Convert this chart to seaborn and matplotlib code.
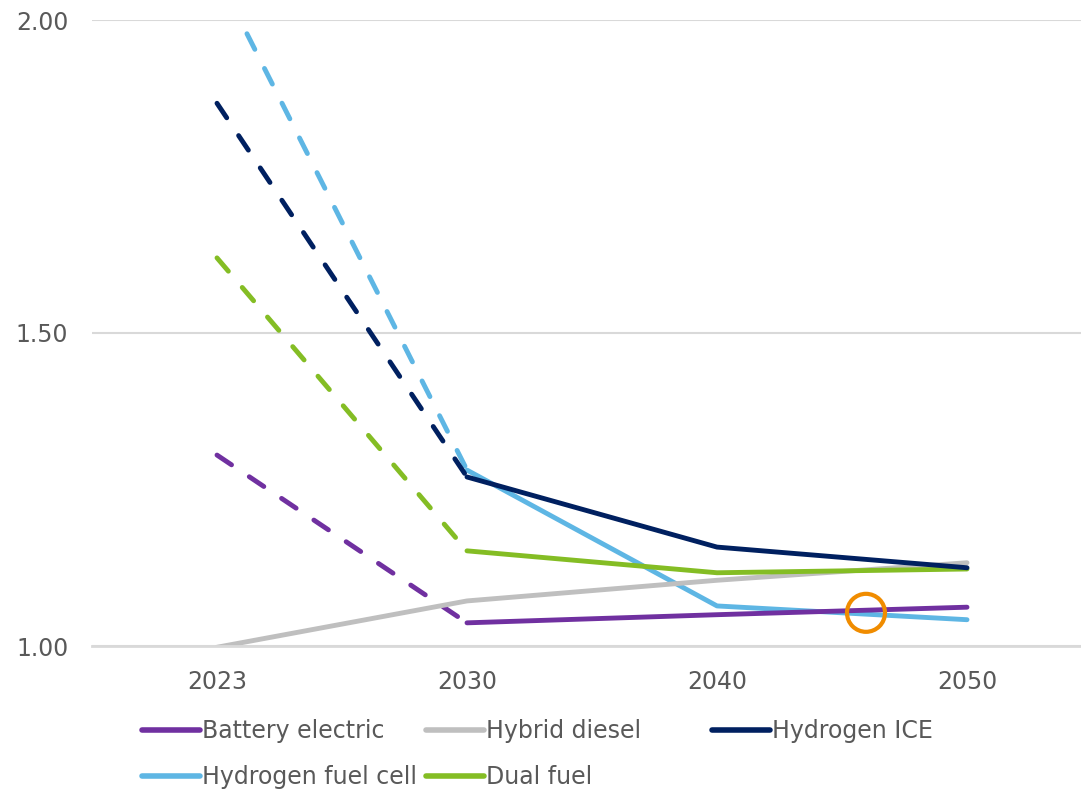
import seaborn as sns
import pandas as pd
import matplotlib.pyplot as plt
from matplotlib.lines import Line2D
from matplotlib.patches import Ellipse

years = ['2023', '2030', '2040', '2050']
series = ['Battery electric', 'Hybrid diesel', 'Hydrogen ICE', 'Hydrogen fuel cell', 'Dual fuel']
battery_electric = [1.305, 1.037, 1.050, 1.062]
hybrid_diesel = [0.998, 1.072, 1.105, 1.133]
hydrogen_ice = [1.867, 1.270, 1.158, 1.125]
hydrogen_fuel_cell = [2.073, 1.281, 1.064, 1.042]
dual_fuel = [1.620, 1.152, 1.117, 1.123]
values = [battery_electric, hybrid_diesel, hydrogen_ice, hydrogen_fuel_cell, dual_fuel]
colors = ['#7030a0', '#bfbfbf', '#002060', '#5eb6e4', '#84bd24']
# first segment (2023-2030) is dashed, except hybrid diesel
dashed_first = [True, False, True, True, True]

rows = []
for name, vals, dash in zip(series, values, dashed_first):
    for i, v in enumerate(vals):
        if dash:
            if i <= 1:
                rows.append({'x': i, 'value': v, 'series': name, 'part': 'early'})
            if i >= 1:
                rows.append({'x': i, 'value': v, 'series': name, 'part': 'late'})
        else:
            rows.append({'x': i, 'value': v, 'series': name, 'part': 'late'})
df = pd.DataFrame(rows)

sns.set_style('white')
plt.rcParams['font.family'] = ['DejaVu Sans']

fig = plt.figure(figsize=(10.81, 7.91), dpi=100)
ax = fig.add_axes([92 / 1081, 1 - 646 / 791, 1 - 92 / 1081, 626 / 791])

palette = dict(zip(series, colors))
draw_order = ['Hydrogen fuel cell', 'Battery electric', 'Hybrid diesel', 'Dual fuel', 'Hydrogen ICE']
for name in draw_order:
    sub = df[df['series'] == name]
    sns.lineplot(data=sub, x='x', y='value', hue='series', style='part',
                 style_order=['late', 'early'], dashes={'late': '', 'early': (3.6, 4.4)},
                 palette=palette, linewidth=3.5, legend=False, ax=ax,
                 solid_capstyle='round', dash_capstyle='round', estimator=None, sort=False)

ax.add_patch(Ellipse((2.596, 1.053), 38 / 250, 38 / 626, fill=False,
                     edgecolor='#f08c00', linewidth=3, zorder=5))

ax.set_xlim(-0.5, 3.456)
ax.set_ylim(1.0, 2.0)
ax.set_xticks(range(len(years)))
ax.set_xticklabels(years)
ax.set_yticks([1.0, 1.5, 2.0])
ax.set_yticklabels(['1.00', '1.50', '2.00'])
ax.set_xlabel('')
ax.set_ylabel('')
ax.grid(axis='y', color='#d9d9d9', linewidth=1.5)
ax.grid(axis='x', visible=False)
for side in ['top', 'right', 'left']:
    ax.spines[side].set_visible(False)
ax.spines['bottom'].set_color('#d9d9d9')
ax.spines['bottom'].set_linewidth(2)
ax.tick_params(axis='both', length=0, labelsize=17, labelcolor='#595959')
ax.tick_params(axis='x', pad=17)
ax.tick_params(axis='y', pad=17)

handles = {n: Line2D([0], [0], color=c, linewidth=4, solid_capstyle='round') for n, c in zip(series, colors)}
columns = [(142, ['Battery electric', 'Hydrogen fuel cell']),
           (426, ['Hybrid diesel', 'Dual fuel']),
           (712, ['Hydrogen ICE'])]
for x0, names in columns:
    leg = fig.legend([handles[n] for n in names], names, loc='upper left',
                     bbox_to_anchor=(x0 / 1081, 1 - 719 / 791), frameon=False,
                     fontsize=17, handlelength=2.45, handletextpad=0.1,
                     borderpad=0, borderaxespad=0, labelspacing=0.95)
    for t in leg.get_texts():
        t.set_color('#595959')

fig.savefig('out.png', dpi=100)
